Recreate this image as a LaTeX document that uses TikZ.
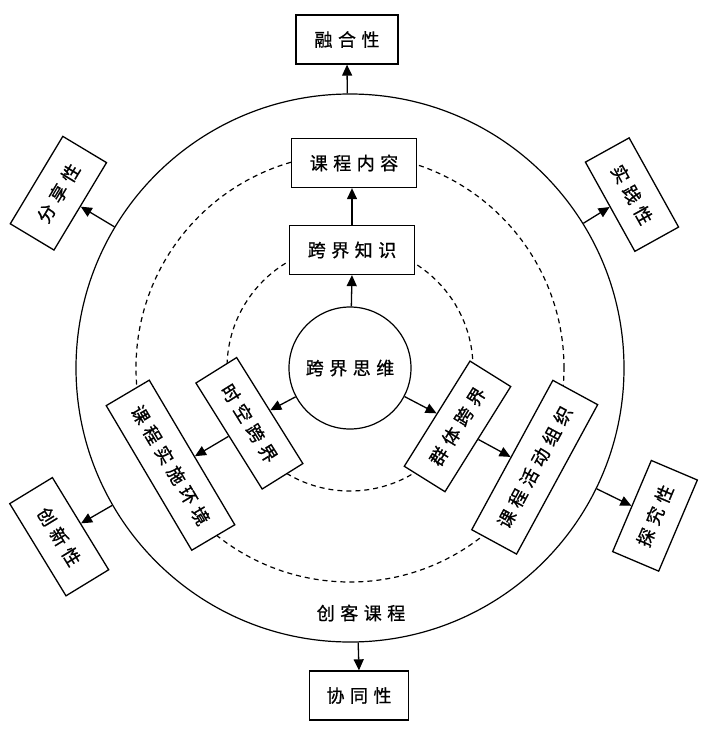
\documentclass[tikz,border=0pt]{standalone}
\usepackage{fontspec}
\newfontfamily\cjk[FakeBold=0.8]{Noto Sans CJK SC}
\usetikzlibrary{arrows.meta,calc}
\newcommand\csp{\hspace{5.5pt}}
\begin{document}
\begin{tikzpicture}[x=1pt,y=-1pt,
  every node/.style={font=\cjk\fontsize{18}{20}\selectfont},
  box/.style={draw, fill=white, line width=1.3pt, minimum height=49pt, inner sep=0pt},
  ring/.style={draw, circle, line width=1.2pt, inner sep=0pt},
  dring/.style={draw, circle, dash pattern=on 5pt off 4pt, line width=1.2pt, inner sep=0pt},
  arr/.style={line width=1.3pt, -{Triangle[length=11pt,width=10pt]}}]
\fill[white] (0,0) rectangle (709,737);
\useasboundingbox (0,0) rectangle (709,737);
\coordinate (C) at (350,368);
\node[ring, minimum size=548pt] (outer) at (C) {};
\node[dring, minimum size=428pt] (mid) at (C) {};
\node[dring, minimum size=246pt] (inn) at (C) {};
\node[ring, fill=white, minimum size=122pt] (core) at (C) {跨\csp 界\csp 思\csp 维};
% inner and middle boxes
\node[box, minimum width=125pt] (kcnr) at (354,163) {课\csp 程\csp 内\csp 容};
\node[box, minimum width=125pt] (kjzs) at (352,250) {跨\csp 界\csp 知\csp 识};
\node[box, minimum width=125pt, minimum height=48pt, rotate=-58] (skkj) at (249.4,423.3) {时\csp 空\csp 跨\csp 界};
\node[box, minimum width=124pt, minimum height=48pt, rotate=58] (qtkj) at (457.5,426.4) {群\csp 体\csp 跨\csp 界};
\node[box, minimum width=168pt, minimum height=50pt, rotate=-59.4] (ssjh) at (170.5,465.2) {课\csp 程\csp 实\csp 施\csp 环\csp 境};
\node[box, minimum width=170pt, minimum height=51pt, rotate=61.5] (hdzz) at (534.7,467.2) {课\csp 程\csp 活\csp 动\csp 组\csp 织};
% outer boxes
\node[box, minimum width=102pt] (rhx) at (347,39.5) {融\csp 合\csp 性};
\node[box, minimum width=99pt] (xtx) at (359,695.5) {协\csp 同\csp 性};
\node[box, minimum width=102pt, minimum height=51pt, rotate=59] (fxx) at (58.4,193.2) {分\csp 享\csp 性};
\node[box, minimum width=102pt, minimum height=50pt, rotate=-61] (sjx) at (632,194.6) {实\csp 践\csp 性};
\node[box, minimum width=108pt, minimum height=50pt, rotate=-58.6] (cxx) at (59.2,536.7) {创\csp 新\csp 性};
\node[box, minimum width=99pt, minimum height=50pt, rotate=67] (tjx) at (655,515.8) {探\csp 究\csp 性};
\node (ckkc) at (361,613) {创\csp 客\csp 课\csp 程};
% connectors
\draw[arr] (core) -- (kjzs.south);
\draw[arr] (kjzs.north) -- (kjzs.north |- kcnr.south);
\draw[arr] (core) -- (skkj.north);
\draw[arr] (core) -- (qtkj.north);
\draw[arr] (skkj.south) -- ($(ssjh.north west)!(skkj.south)!(ssjh.north east)$);
\draw[arr] (qtkj.south) -- ($(hdzz.north west)!(qtkj.south)!(hdzz.north east)$);
\draw[arr] (outer) -- (rhx.south);
\draw[arr] (outer) -- (xtx.north);
\draw[arr] (outer) -- (fxx.south);
\draw[arr] (outer) -- (sjx.south);
\draw[arr] (outer) -- (cxx.north);
\draw[arr] (outer) -- (tjx.north);
\end{tikzpicture}
\end{document}
